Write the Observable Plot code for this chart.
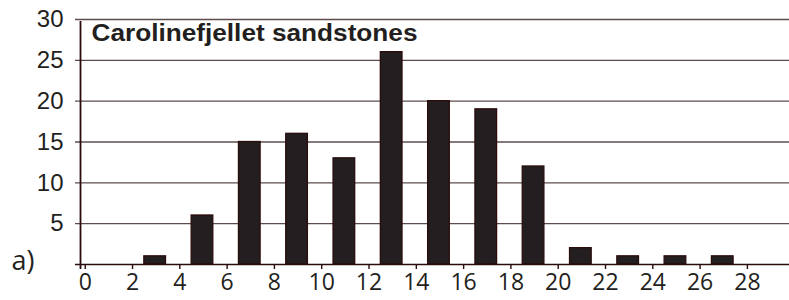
<!DOCTYPE html>
<html>
<head>
<meta charset="utf-8">
<script src="https://cdn.jsdelivr.net/npm/d3@7"></script>
<script src="https://cdn.jsdelivr.net/npm/@observablehq/plot@0.6"></script>
<style>
  html, body { margin: 0; padding: 0; background: #fff; }
  #chart { width: 789px; height: 300px; }
</style>
</head>
<body>
<div id="chart"></div>
<script>
// Data
const binCenters = [3, 5, 7, 9, 11, 13, 15, 17, 19, 21, 23, 25, 27];
const counts     = [1, 6, 15, 16, 13, 26, 20, 19, 12, 2, 1, 1, 1];
const xTicks = [0, 2, 4, 6, 8, 10, 12, 14, 16, 18, 20, 22, 24, 26, 28];
const yTicks = [5, 10, 15, 20, 25, 30];
const title = "Carolinefjellet sandstones";
const panelLabel = "a)";

const data = binCenters.map((c, i) => ({lo: c - 0.5, hi: c + 0.5, n: counts[i]}));

const ink = "#231f20";
const edge = "#2a0c0c";

const chart = Plot.plot({
  width: 789,
  height: 300,
  marginLeft: 80,
  marginRight: 0,
  marginTop: 19,
  marginBottom: 36,
  x: {domain: [-0.2, 29.78]},
  y: {domain: [0, 30]},
  style: {background: "#fff", overflow: "visible"},
  marks: [
    Plot.ruleY(yTicks, {stroke: "#5e4c4c", strokeWidth: 1.3, insetLeft: -5}),
    Plot.rectY(data, {x1: "lo", x2: "hi", y: "n", fill: ink, stroke: edge, strokeWidth: 1.3, insetRight: 2}),
    Plot.ruleY([0], {stroke: edge, strokeWidth: 1.6, insetLeft: -5}),
    Plot.ruleX([-0.2], {stroke: edge, strokeWidth: 1.8, insetTop: 2, insetBottom: -5}),
    Plot.axisX({ticks: xTicks, tickSize: 5, tickPadding: 4, stroke: edge, strokeWidth: 1.4,
      fontSize: 23, fontFamily: "Open Sans", fill: ink, label: null, tickFormat: d => String(d)}),
    Plot.axisY({ticks: yTicks, tickSize: 0, tickPadding: 17, fontSize: 24,
      fontFamily: "Liberation Sans", fill: ink, label: null}),
    Plot.text([title], {text: d => d, frameAnchor: "top-left", textAnchor: "start", lineAnchor: "top",
      dx: 11, dy: 5, fontSize: 23, fontWeight: "bold", fontFamily: "Liberation Sans", fill: ink}),
    Plot.text([panelLabel], {text: d => d, frameAnchor: "bottom-left", textAnchor: "start", lineAnchor: "middle",
      dx: -69, dy: -3, fontSize: 27, fontFamily: "Open Sans", fill: ink})
  ]
});
document.getElementById("chart").appendChild(chart);
const svg = d3.select(chart);
svg.selectAll("text").filter(function() { return this.textContent === title; })
  .attr("textLength", 326).attr("lengthAdjust", "spacingAndGlyphs");
</script>
</body>
</html>
